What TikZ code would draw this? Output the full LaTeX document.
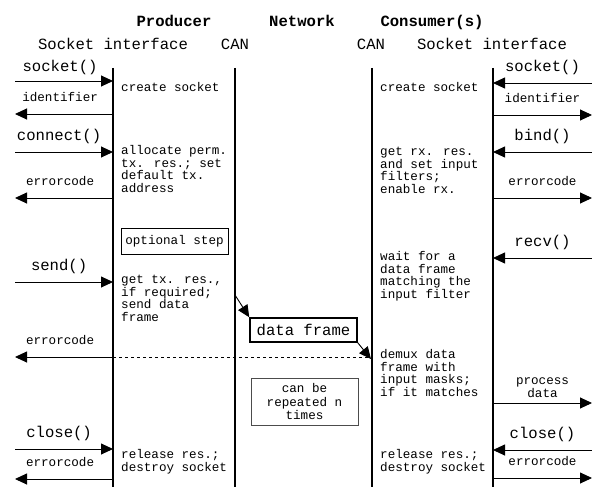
\documentclass[tikz,border=0pt]{standalone}
\usepackage{fontspec}
\setmainfont{Liberation Mono}
\usetikzlibrary{arrows.meta}

\begin{document}
\begin{tikzpicture}[x=1pt, y=-1pt,
    lifeline/.style={line width=1.6pt},
    msg/.style={line width=0.9pt, -{Triangle[length=12pt, width=11pt]}},
    head/.style={font=\fontsize{15.6}{17}\selectfont\bfseries, anchor=base, inner sep=0pt},
    big/.style={font=\fontsize{15.6}{17}\selectfont, anchor=base, inner sep=0pt},
    small/.style={font=\fontsize{12.6}{12.7}\selectfont, anchor=base, inner sep=0pt},
    biglbl/.style={big, yshift=11.5pt},
    smalllbl/.style={small, yshift=12.5pt},
    note/.style={font=\fontsize{12.6}{12.7}\selectfont, align=left, anchor=base west, inner sep=0pt},
  ]
    \useasboundingbox (0,0) rectangle (592,487);

    % Nodes
    \node [head] (prod) at (174, 27) {Producer};
    \node [head] (net) at (302, 27) {Network};
    \node [head] (cons) at (432, 27) {Consumer(s)};

    \path (113, 68) coordinate (psock) node [big] at (113, 50) {Socket interface};
    \path (235, 68) coordinate (pcan) node [big] at (235, 50) {CAN};
    \path (372, 68) coordinate (ccan) node [big] at (371, 50) {CAN};
    \path (493, 68) coordinate (csock) node [big] at (492, 50) {Socket interface};

    \path (113, 487) coordinate (psock end);
    \path (235, 487) coordinate (pcan end);
    \path (372, 487) coordinate (ccan end);
    \path (493, 487) coordinate (csock end);

    % (base of a note = baseline of its last line)
    \node [note] (pcreate) at (121, 91.5) {create socket};
    \node [note] (palloc) at (121, 192.6) {allocate perm.\\tx. res.; set\\default tx.\\address};
    \node [draw, line width=0.6pt, small, anchor=center, minimum width=107pt, minimum height=26pt]
      (popt) at (174.5, 241) {optional step};
    \node [note] (pget) at (121, 321.6) {get tx. res.,\\if required;\\send data\\frame};
    \node [note] (prel) at (121, 471.2) {release res.;\\destroy socket};

    \node [note] (ccreate) at (380, 91.5) {create socket};
    \node [note] (cget) at (380, 193.6) {get rx. res.\\and set input\\filters;\\enable rx.};
    \node [note] (cwait) at (380, 298.6) {wait for a\\data frame\\matching the\\input filter};
    \node [note] (cdemux) at (380, 396.6) {demux data\\frame with\\input masks;\\if it matches};
    \node [note] (crel) at (380, 471.2) {release res.;\\destroy socket};

    \node [draw, line width=1.5pt, big, anchor=center, minimum width=107pt, minimum height=24pt]
      (dframe) at (303.5, 330) {data frame};
    \node [draw, draw=black!70, line width=0.6pt, font=\fontsize{12.6}{13.5}\selectfont, align=center,
      inner sep=0pt, minimum width=107pt, minimum height=47pt] (repeat) at (304.5, 401.5)
      {can be\\repeated n\\times};

    % Message ends
    \path (15, 81) coordinate (l1) (15, 114) coordinate (l2)
          (15, 152) coordinate (l3) (15, 198) coordinate (l4)
          (15, 282) coordinate (l5) (15, 357) coordinate (l6)
          (15, 449) coordinate (l7) (15, 479) coordinate (l8);
    \path (592, 83) coordinate (r1) (592, 115) coordinate (r2)
          (592, 152) coordinate (r3) (592, 198) coordinate (r4)
          (592, 258) coordinate (r5) (592, 403) coordinate (r6)
          (592, 450) coordinate (r7) (592, 478) coordinate (r8);
    \path (235, 295) coordinate (tx) (371, 359) coordinate (rx);

    % Connections
    \draw [lifeline] (psock) -- (psock end);
    \draw [lifeline] (pcan) -- (pcan end);
    \draw [lifeline] (ccan) -- (ccan end);
    \draw [lifeline] (csock) -- (csock end);

    \draw [msg] (l1) -- node [big, pos=0.46, yshift=9pt] {socket()} (l1 -| psock);
    \draw [msg] (l2 -| psock) -- node [smalllbl, pos=0.54] {identifier} (l2);
    \draw [msg] (l3) -- node [biglbl, pos=0.45] {connect()} (l3 -| psock);
    \draw [msg] (l4 -| psock) -- node [smalllbl, pos=0.54] {errorcode} (l4);
    \draw [msg] (l5) -- node [biglbl, pos=0.45] {send()} (l5 -| psock);
    \draw [msg] (l6 -| psock) -- node [smalllbl, pos=0.54] {errorcode} (l6);
    \draw [msg] (l7) -- node [biglbl, pos=0.45] {close()} (l7 -| psock);
    \draw [msg] (l8 -| psock) -- node [smalllbl, pos=0.54] {errorcode} (l8);

    \draw [msg] (r1) -- node [biglbl] {socket()} (r1 -| csock);
    \draw [msg] (r2 -| csock) -- node [smalllbl] {identifier} (r2);
    \draw [msg] (r3) -- node [biglbl] {bind()} (r3 -| csock);
    \draw [msg] (r4 -| csock) -- node [smalllbl] {errorcode} (r4);
    \draw [msg] (r5) -- node [biglbl] {recv()} (r5 -| csock);
    \draw [msg] (r6 -| csock) -- node [small, anchor=south, align=center, yshift=5pt] {process\\data} (r6);
    \draw [msg] (r7) -- node [biglbl] {close()} (r7 -| csock);
    \draw [msg] (r8 -| csock) -- node [smalllbl] {errorcode} (r8);

    \draw [msg] (tx) -- (dframe.north west);
    \draw [msg] (dframe.south east) -- (rx);
    \draw [dashed, line width=0.8pt] (l6 -| psock) -- (l6 -| ccan);
  \end{tikzpicture}
\end{document}
